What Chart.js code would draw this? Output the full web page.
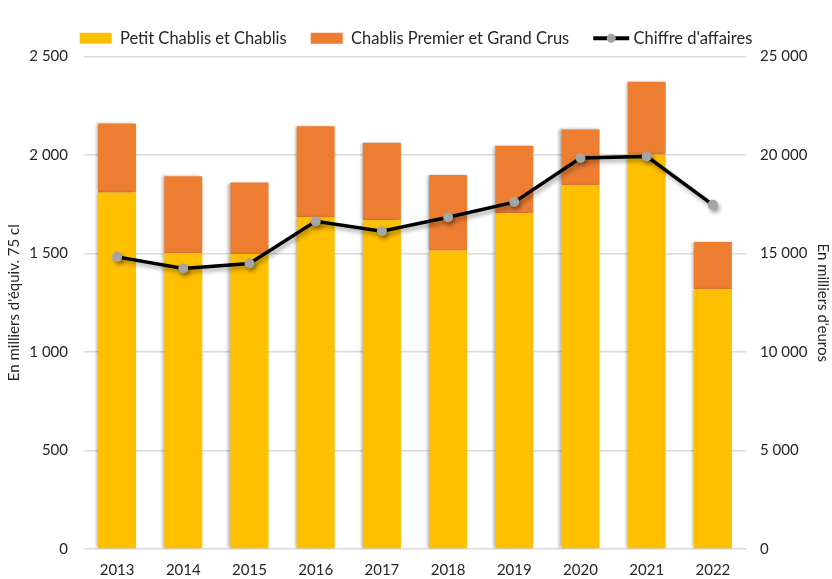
<!DOCTYPE html>
<html>
<head>
<meta charset="utf-8">
<script src="https://cdn.jsdelivr.net/npm/chart.js@4/dist/chart.umd.min.js"></script>
<style>
  html, body { margin: 0; padding: 0; background: #fff; }
  #wrap { width: 832px; height: 579px; }
</style>
</head>
<body>
<div id="wrap"><canvas id="graphe"></canvas></div>
<script>
const annees = ['2013', '2014', '2015', '2016', '2017', '2018', '2019', '2020', '2021', '2022'];
const petitChablis = [1810, 1503, 1498, 1685, 1669, 1515, 1705, 1848, 2003, 1320];
const premierGrandCrus = [350, 389, 362, 461, 393, 384, 342, 282, 369, 239];
const chiffreAffaires = [14830, 14240, 14490, 16630, 16130, 16840, 17610, 19850, 19930, 17470];

const police = "'Lato', 'Noto Sans', sans-serif";
const texte = '#262626';

function espaces(v) {
    return String(v).replace(/\B(?=(\d{3})+(?!\d))/g, ' ');
}

// ombre legere comme dans Excel
const ombres = {
    id: 'ombres',
    beforeDatasetDraw(chart, args) {
        const ctx = chart.ctx;
        ctx.save();
        if (args.meta.type === 'line') {
            ctx.shadowColor = 'rgba(0,0,0,0.35)';
            ctx.shadowBlur = 4;
            ctx.shadowOffsetX = 2;
            ctx.shadowOffsetY = 3;
        } else {
            ctx.shadowColor = 'rgba(0,0,0,0.3)';
            ctx.shadowBlur = 3;
            ctx.shadowOffsetX = -2;
            ctx.shadowOffsetY = 0;
        }
    },
    afterDatasetDraw(chart) {
        chart.ctx.restore();
    }
};

// symbole ligne + point pour la legende
const symboleLigne = {
    id: 'symboleLigne',
    afterDraw(chart) {
        const boites = chart.legend.legendHitBoxes;
        if (!boites || !boites[2]) return;
        const b = boites[2];
        const ctx = chart.ctx;
        const y = b.top + b.height / 2;
        ctx.save();
        ctx.strokeStyle = '#000';
        ctx.lineWidth = 4;
        ctx.beginPath();
        ctx.moveTo(b.left, y);
        ctx.lineTo(b.left + 36, y);
        ctx.stroke();
        ctx.fillStyle = '#A5A5A5';
        ctx.beginPath();
        ctx.arc(b.left + 18, y, 4.5, 0, Math.PI * 2);
        ctx.fill();
        ctx.restore();
    }
};

new Chart(document.getElementById('graphe'), {
    data: {
        labels: annees,
        datasets: [
            {
                type: 'bar',
                label: 'Petit Chablis et Chablis',
                data: petitChablis,
                backgroundColor: '#FFC000',
                stack: 'volumes',
                yAxisID: 'y',
                order: 1,
                barPercentage: 0.575,
                categoryPercentage: 1
            },
            {
                type: 'bar',
                label: 'Chablis Premier et Grand Crus',
                data: premierGrandCrus,
                backgroundColor: '#ED7D31',
                stack: 'volumes',
                yAxisID: 'y',
                order: 1,
                barPercentage: 0.575,
                categoryPercentage: 1
            },
            {
                type: 'line',
                label: "Chiffre d'affaires",
                data: chiffreAffaires,
                borderColor: '#000',
                borderWidth: 3.5,
                pointBackgroundColor: '#A5A5A5',
                pointBorderWidth: 0,
                pointRadius: 5,
                tension: 0,
                yAxisID: 'y1',
                order: 0
            }
        ]
    },
    options: {
        responsive: true,
        maintainAspectRatio: false,
        animation: false,
        layout: { padding: { top: 6, right: 0, left: 0, bottom: 0 } },
        plugins: {
            tooltip: { enabled: false },
            legend: {
                position: 'top',
                labels: {
                    color: texte,
                    font: { family: police, size: 16.5 },
                    boxWidth: 32,
                    boxHeight: 11,
                    padding: 24,
                    generateLabels(chart) {
                        return chart.data.datasets.map((d, i) => ({
                            text: d.label,
                            fillStyle: d.type === 'line' ? 'rgba(0,0,0,0)' : d.backgroundColor,
                            strokeStyle: 'rgba(0,0,0,0)',
                            lineWidth: 0,
                            hidden: false,
                            datasetIndex: i,
                            fontColor: texte
                        }));
                    }
                }
            }
        },
        scales: {
            x: {
                stacked: true,
                grid: { display: false },
                border: { display: false },
                ticks: { color: texte, font: { family: police, size: 15 }, padding: 4 },
                afterFit(s) { s.height = 30; }
            },
            y: {
                position: 'left',
                stacked: true,
                min: 0,
                max: 2500,
                ticks: {
                    stepSize: 500,
                    color: texte,
                    font: { family: police, size: 15 },
                    padding: 16,
                    callback: v => espaces(v)
                },
                grid: { color: '#D9D9D9', lineWidth: 1.5, drawTicks: false },
                border: { display: false },
                title: {
                    display: true,
                    text: "En milliers d'équiv. 75 cl",
                    color: texte,
                    font: { family: police, size: 15 },
                    padding: { top: 5, bottom: 0 }
                },
                afterFit(s) { s.width = 84; }
            },
            y1: {
                position: 'right',
                min: 0,
                max: 25000,
                ticks: {
                    stepSize: 5000,
                    color: texte,
                    font: { family: police, size: 15 },
                    padding: 14,
                    callback: v => espaces(v)
                },
                grid: { display: false, drawTicks: false },
                border: { display: false },
                title: {
                    display: true,
                    text: "En milliers d'euros",
                    color: texte,
                    font: { family: police, size: 15 },
                    padding: { top: 0, bottom: 0 }
                },
                afterFit(s) { s.width = 86; }
            }
        }
    },
    plugins: [ombres, symboleLigne]
});
</script>
</body>
</html>
